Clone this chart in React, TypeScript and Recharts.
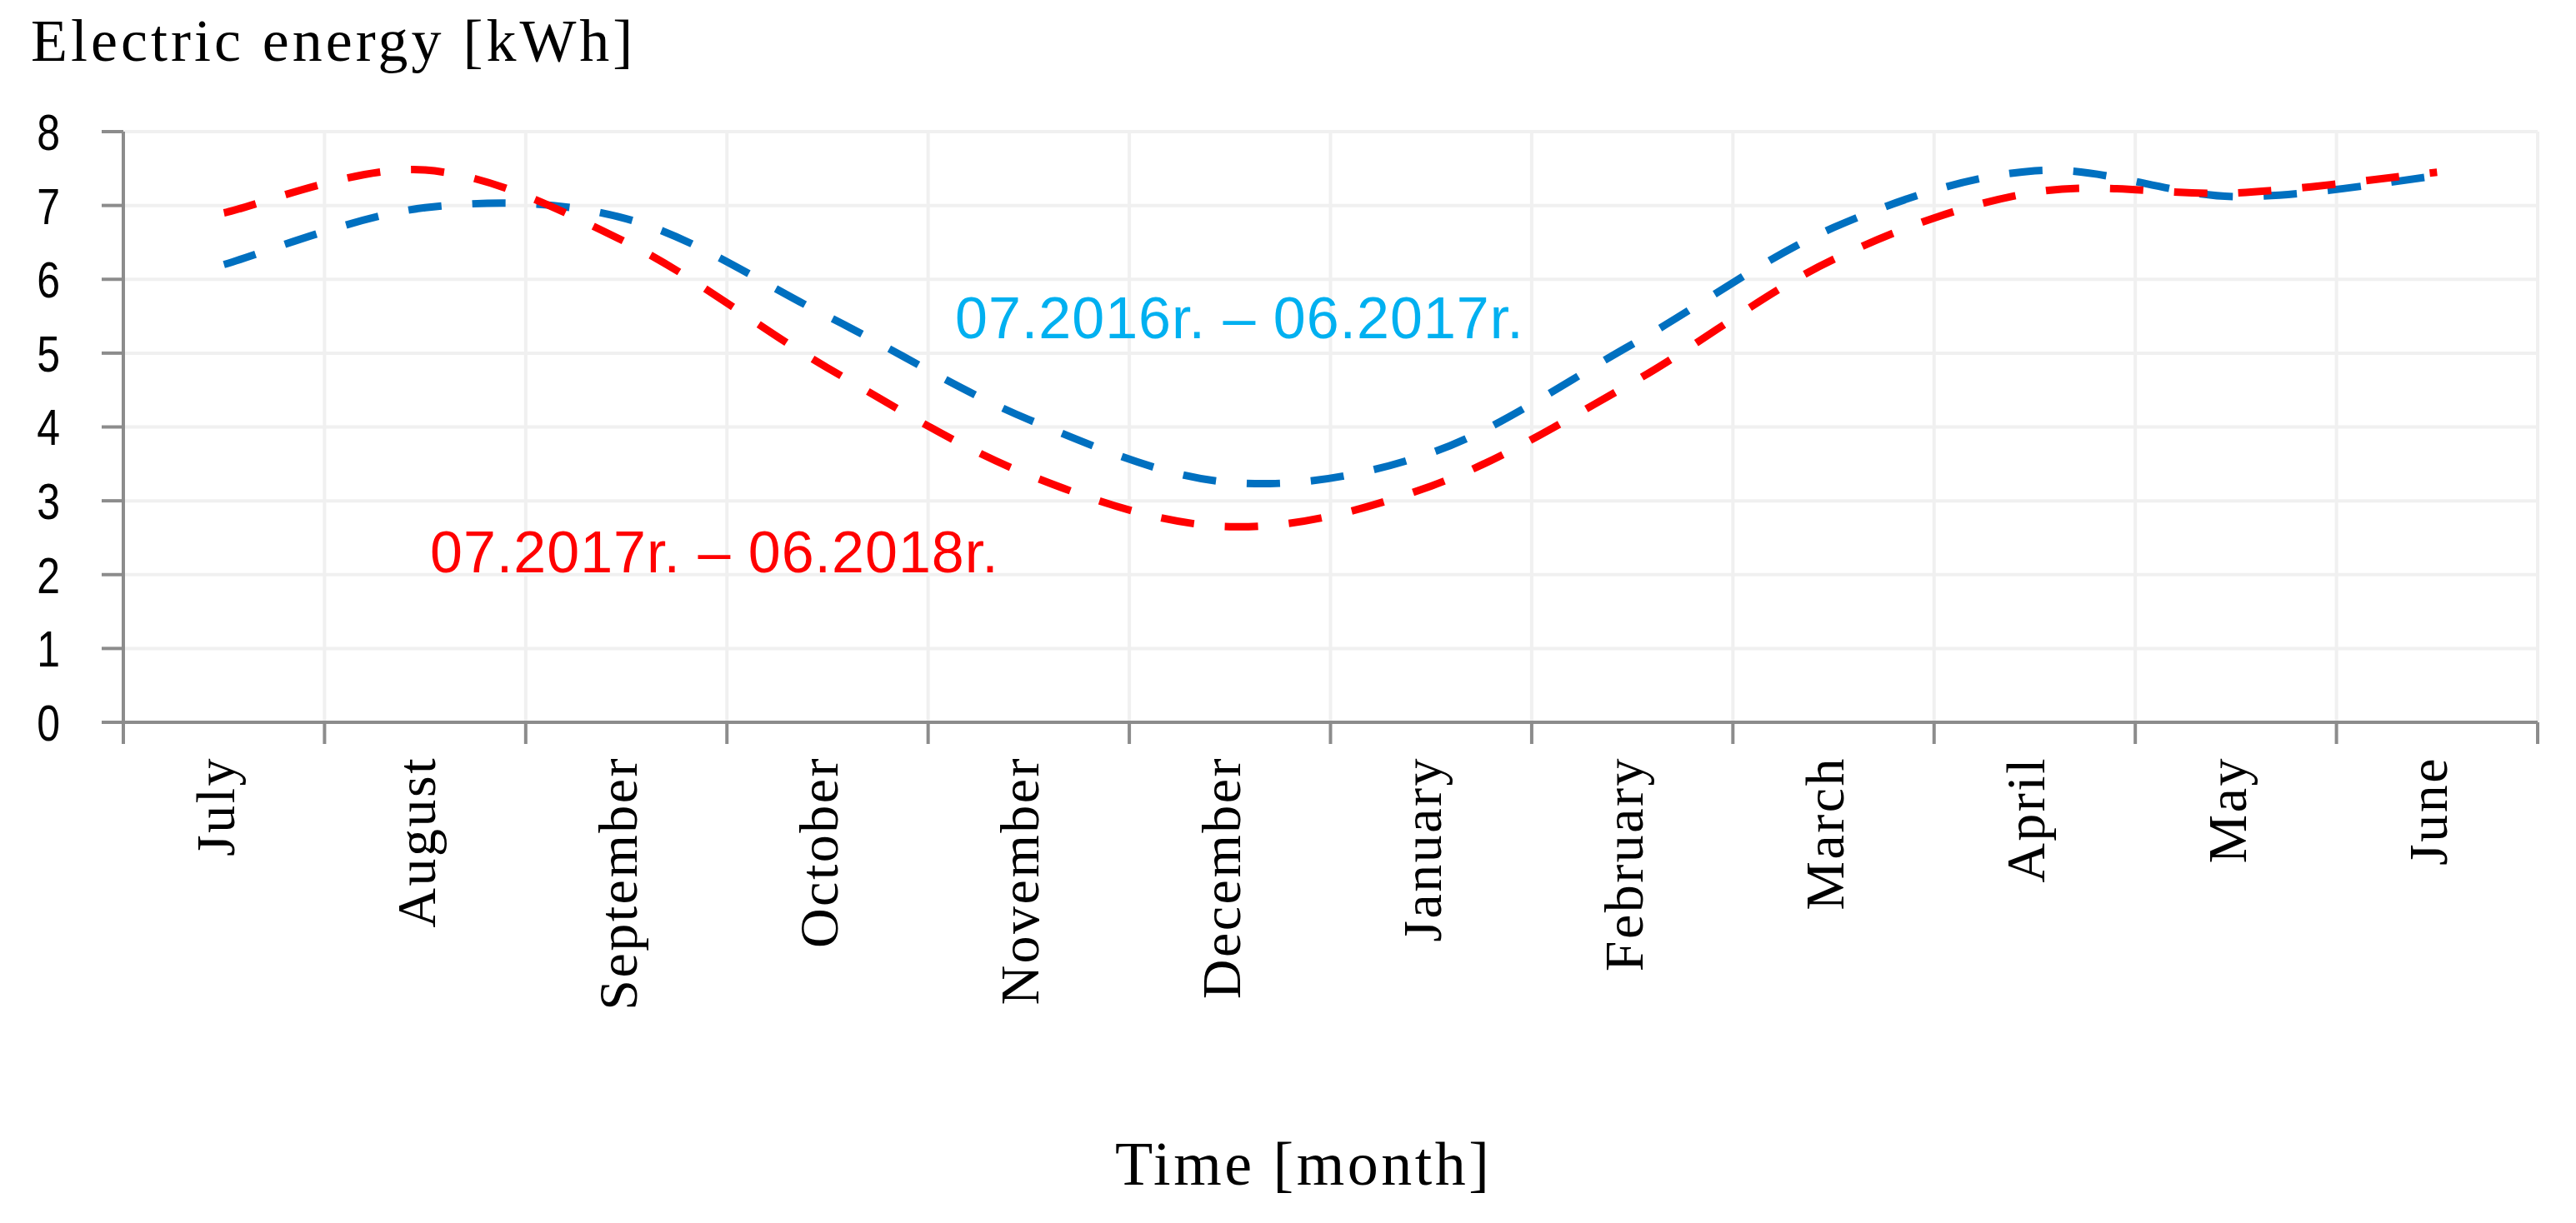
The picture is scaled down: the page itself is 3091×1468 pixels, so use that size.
import React from 'react';
import { LineChart, Line, XAxis, YAxis, CartesianGrid } from 'recharts';

// ---- data ----
const months = ['July', 'August', 'September', 'October', 'November', 'December', 'January', 'February', 'March', 'April', 'May', 'June'];
const season2016 = [6.2, 6.97, 6.82, 5.5, 4.1, 3.25, 3.65, 5.12, 6.7, 7.47, 7.12, 7.4];
const season2017 = [6.9, 7.48, 6.5, 4.8, 3.35, 2.65, 3.2, 4.6, 6.27, 7.18, 7.17, 7.45];
const yTicks = [0, 1, 2, 3, 4, 5, 6, 7, 8];
const label2016 = '07.2016r. – 06.2017r.';
const label2017 = '07.2017r. – 06.2018r.';
const yTitle = 'Electric energy [kWh]';
const xTitle = 'Time [month]';

const data = months.map((m, i) => ({ month: m, s2016: season2016[i], s2017: season2017[i] }));

// ---- layout ----
const W = 3091;
const H = 1468;
const PLOT_LEFT = 148;
const PLOT_RIGHT = 3045;
const PLOT_TOP = 158;
const PLOT_BOTTOM = 867;
const PLOT_W = PLOT_RIGHT - PLOT_LEFT;
const BAND = PLOT_W / months.length;
const TICK = 26;
const AXIS = '#8C8C8C';
const GRID = '#F0F0F0';
const SERIF = '"Liberation Serif", "Times New Roman", serif';
const SANS = '"Liberation Sans", Arial, sans-serif';

// Catmull-Rom style smoothing (similar to Excel smoothed lines)
const smoothCurve: any = (ctx: any) => {
  let pts: number[][] = [];
  return {
    areaStart() {},
    areaEnd() {},
    lineStart() {
      pts = [];
    },
    point(x: number, y: number) {
      pts.push([+x, +y]);
    },
    lineEnd() {
      const n = pts.length;
      if (!n) return;
      ctx.moveTo(pts[0][0], pts[0][1]);
      for (let i = 0; i < n - 1; i++) {
        const p0 = pts[Math.max(0, i - 1)];
        const p1 = pts[i];
        const p2 = pts[i + 1];
        const p3 = pts[Math.min(n - 1, i + 2)];
        ctx.bezierCurveTo(
          p1[0] + (p2[0] - p0[0]) / 6,
          p1[1] + (p2[1] - p0[1]) / 6,
          p2[0] - (p3[0] - p1[0]) / 6,
          p2[1] - (p3[1] - p1[1]) / 6,
          p2[0],
          p2[1]
        );
      }
    },
  };
};

const XTick = (props: any) => {
  const { x, index, payload } = props;
  const left = x - BAND / 2;
  const right = x + BAND / 2;
  return (
    <g>
      <line x1={left} x2={left} y1={PLOT_BOTTOM} y2={PLOT_BOTTOM + TICK} stroke={AXIS} strokeWidth={4} />
      {index === months.length - 1 && (
        <line x1={right} x2={right} y1={PLOT_BOTTOM} y2={PLOT_BOTTOM + TICK} stroke={AXIS} strokeWidth={4} />
      )}
      <text
        transform={`translate(${x + 12},${908}) rotate(-90)`}
        textAnchor="end"
        fontFamily={SERIF}
        fontSize={66}
        letterSpacing={2.5}
        fill="#000"
      >
        {payload.value}
      </text>
    </g>
  );
};

const YTick = (props: any) => {
  const { y, payload } = props;
  return (
    <text
      transform={`translate(72,${y}) scale(0.82,1)`}
      textAnchor="end"
      dy="0.36em"
      fontFamily={SANS}
      fontSize={61}
      fill="#000"
    >
      {payload.value}
    </text>
  );
};

const verticalLines = months.map((_, i) => PLOT_LEFT + (i + 1) * BAND);

export default function App() {
  return (
    <div style={{ position: 'absolute', left: 0, top: 0, width: W, height: H, background: '#fff' }}>
      <LineChart
        width={W}
        height={H}
        data={data}
        margin={{ top: PLOT_TOP, right: W - PLOT_RIGHT, bottom: 0, left: 0 }}
      >
        <CartesianGrid stroke={GRID} strokeWidth={4} verticalPoints={verticalLines} />
        <XAxis
          dataKey="month"
          height={H - PLOT_BOTTOM}
          interval={0}
          padding={{ left: BAND / 2, right: BAND / 2 }}
          tickLine={false}
          axisLine={{ stroke: AXIS, strokeWidth: 4 }}
          tick={<XTick />}
        />
        <YAxis
          domain={[0, 8]}
          ticks={yTicks}
          width={PLOT_LEFT}
          tickSize={TICK}
          axisLine={{ stroke: AXIS, strokeWidth: 4 }}
          tickLine={{ stroke: AXIS, strokeWidth: 4 }}
          tick={<YTick />}
          interval={0}
        />
        <Line
          dataKey="s2016"
          type={smoothCurve}
          stroke="#0070C0"
          strokeWidth={9}
          strokeDasharray="40 37"
          dot={false}
          activeDot={false}
          isAnimationActive={false}
        />
        <Line
          dataKey="s2017"
          type={smoothCurve}
          stroke="#FF0000"
          strokeWidth={9}
          strokeDasharray="40 37"
          dot={false}
          activeDot={false}
          isAnimationActive={false}
        />
      </LineChart>
      <svg
        width={W}
        height={H}
        style={{ position: 'absolute', left: 0, top: 0, pointerEvents: 'none' }}
      >
        <text x={37} y={73} fontFamily={SERIF} fontSize={72} letterSpacing={4} fill="#000">
          {yTitle}
        </text>
        <text x={1146} y={406} fontFamily={SANS} fontSize={70} letterSpacing={1} fill="#00B0F0">
          {label2016}
        </text>
        <text x={516} y={687} fontFamily={SANS} fontSize={70} letterSpacing={1} fill="#FF0000">
          {label2017}
        </text>
        <text x={1338} y={1422} fontFamily={SERIF} fontSize={74} letterSpacing={3.5} fill="#000">
          {xTitle}
        </text>
      </svg>
    </div>
  );
}
